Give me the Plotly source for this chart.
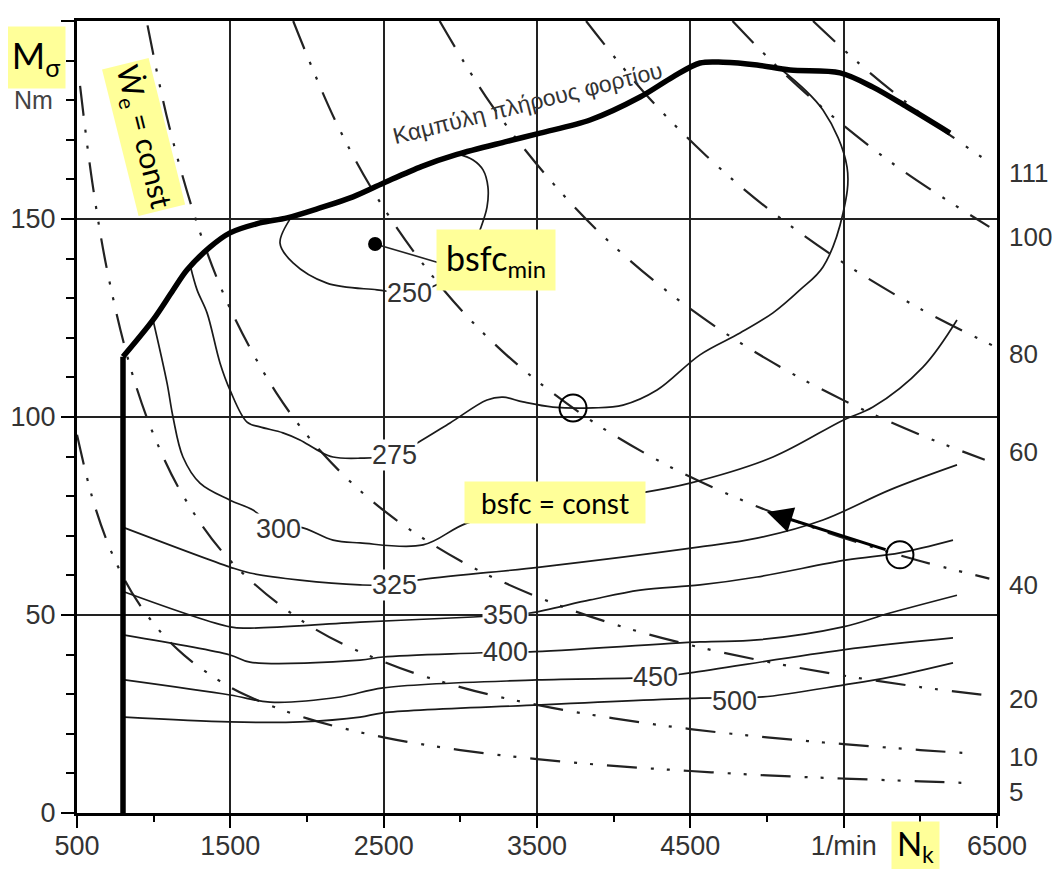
import plotly.graph_objects as go

# ---------------- axis ticks ----------------
speed_ticks = [500, 1500, 2500, 3500, 4500, 5500, 6500]
speed_tick_text = ["500", "1500", "2500", "3500", "4500", "1/min", "6500"]
speed_minor = [1000, 2000, 3000, 4000, 5000, 6000]
torque_ticks = [0, 50, 100, 150, 200]

# ---------------- full-load curve ----------------
full_vert_n = [800, 800]
full_vert_M = [0, 115.2]
full_n = [800, 996, 1126, 1217, 1367, 1498, 1693, 1870, 2085, 2300, 2500, 2750, 2978,
          3304, 3520, 3846, 4172, 4387, 4563, 4713, 4935, 5150, 5476, 5691, 5913, 6193]
full_M = [115.2, 124.5, 132.0, 137.1, 142.9, 146.5, 149.0, 150.3, 152.8, 155.6, 159.1, 163.3, 166.3,
          169.6, 171.7, 175.0, 180.8, 185.9, 189.4, 189.6, 188.9, 187.6, 186.9, 183.3, 178.3, 171.7]

# ---------------- bsfc contours (g/kWh) ----------------
bsfc250_n = [1900, 1824, 1909, 2130, 2457, 2669, 2867, 2965, 3076, 3128, 3174, 3180, 3148, 3083, 2978]
bsfc250_M = [150.6, 143.9, 138.9, 133.8, 132.1, 131.4, 133.8, 136.6, 142.2, 147.2, 153.0, 158.1, 162.4, 164.9, 166.5]

bsfc275_n = [1240, 1283, 1348, 1433, 1498, 1609, 1693, 1843, 1954, 2065, 2170, 2346, 2571, 2717,
             2933, 3174, 3278, 3409, 3604, 3865, 4061, 4283, 4563, 4824, 5039, 5215, 5365, 5496,
             5522, 5365, 5085]
bsfc275_M = [138.0, 132.1, 126.3, 113.6, 106.8, 98.7, 97.5, 96.0, 94.2, 91.7, 89.9, 89.6, 90.4, 93.4,
             98.5, 104.3, 105.0, 103.8, 102.5, 102.3, 103.0, 106.8, 115.7, 121.2, 126.3, 132.1, 137.9, 151.5,
             163.1, 177.5, 188.0]

bsfc300_n = [996, 1087, 1126, 1191, 1302, 1498, 1648, 1814, 1954, 2170, 2346, 2757, 3043, 3585,
             4172, 4498, 5039, 5496, 5691, 6017, 6239]
bsfc300_M = [124.5, 108.6, 100.0, 89.9, 83.3, 79.0, 76.5, 71.7, 72.2, 68.9, 68.2, 67.7, 73.2, 77.8,
             80.8, 83.3, 89.9, 99.2, 102.5, 112.6, 124.5]

bsfc325_n = [810, 1498, 1628, 1954, 2346, 2571, 2717, 3520, 4563, 4935, 5365, 5802, 6239]
bsfc325_M = [72.0, 62.1, 60.6, 58.8, 57.6, 57.6, 58.8, 62.1, 67.2, 69.4, 74.0, 81.6, 87.9]

bsfc350_n = [810, 1498, 1628, 2346, 3083, 3295, 3454, 3846, 4172, 4563, 4935, 5522, 5867, 6213]
bsfc350_M = [55.8, 47.0, 46.7, 48.2, 49.5, 50.0, 50.5, 53.8, 56.3, 57.6, 59.6, 63.9, 65.7, 68.9]

bsfc400_n = [810, 1498, 1628, 2346, 2496, 3109, 3295, 3454, 4563, 4935, 5496, 5802, 6239]
bsfc400_M = [44.9, 39.9, 38.1, 38.6, 39.4, 40.4, 40.7, 40.7, 43.2, 43.7, 47.0, 50.5, 55.0]

bsfc450_n = [810, 1498, 1759, 2215, 2496, 3500, 4273, 4498, 5496, 6213]
bsfc450_M = [33.6, 29.8, 28.0, 29.3, 31.6, 33.6, 34.3, 35.4, 41.2, 44.2]

bsfc500_n = [810, 1498, 1954, 2346, 2496, 3520, 4563, 4791, 4974, 5496, 5802, 6213]
bsfc500_M = [24.2, 23.0, 23.0, 24.2, 25.3, 27.3, 29.0, 29.1, 29.3, 32.3, 34.3, 37.9]

contour_values = ["250", "275", "300", "325", "350", "400", "450", "500"]
contour_label_n = [2669, 2571, 1814, 2571, 3295, 3295, 4273, 4791]
contour_label_M = [131.4, 90.4, 71.7, 57.6, 50.0, 40.7, 34.3, 28.4]

# ---------------- constant power curves (kW) ----------------
p5_n = [500, 600, 700, 800, 900, 1050, 1200, 1400, 1600, 2000, 2500, 3000, 3500, 4000, 4500, 5000, 5500, 6000, 6350]
p5_M = [95.5, 79.6, 68.2, 59.7, 53.1, 45.5, 39.8, 34.1, 29.8, 23.9, 19.1, 15.9, 13.6, 11.9, 10.6, 9.5, 8.7, 8.0, 7.5]

p10_n = [520, 600, 700, 850, 1000, 1200, 1500, 2000, 2500, 3000, 3500, 4000, 4500, 5000, 5500, 6000, 6350]
p10_M = [183.6, 159.2, 136.4, 112.3, 95.5, 79.6, 63.7, 47.7, 38.2, 31.8, 27.3, 23.9, 21.2, 19.1, 17.4, 15.9, 15.0]

p20_n = [960, 1100, 1300, 1500, 1800, 2100, 2500, 3000, 3500, 4000, 4500, 5000, 5500, 6000, 6480]
p20_M = [198.9, 173.6, 146.9, 127.3, 106.1, 90.9, 76.4, 63.7, 54.6, 47.7, 42.4, 38.2, 34.7, 31.8, 29.5]

p40_n = [1910, 2200, 2500, 2900, 3300, 3800, 4300, 4800, 5300, 5900, 6450]
p40_M = [200.0, 173.6, 152.8, 131.7, 115.7, 100.5, 88.8, 79.6, 72.1, 64.7, 59.2]

p60_n = [2865, 3200, 3600, 4000, 4500, 5000, 5500, 6000, 6420]
p60_M = [200.0, 179.0, 159.2, 143.2, 127.3, 114.6, 104.2, 95.5, 89.2]

p80_n = [3820, 4200, 4600, 5000, 5500, 6000, 6480]
p80_M = [200.0, 181.9, 166.1, 152.8, 138.9, 127.3, 117.9]

p100_n = [4775, 5100, 5500, 5900, 6450]
p100_M = [200.0, 187.2, 173.6, 161.8, 148.0]

p111_n = [5300, 5600, 5900, 6200, 6450]
p111_M = [200.0, 189.3, 179.7, 171.0, 164.3]

power_labels = ["111", "100", "80", "60", "40", "20", "10", "5"]
power_label_M = [161.6, 145.5, 115.9, 91.2, 57.6, 28.8, 14.1, 5.3]

# ---------------- markers ----------------
bsfc_min_n = [2444]
bsfc_min_M = [143.7]
leader_n = [2444, 2848]
leader_M = [143.7, 139.1]
circle_n = [3735, 5867]
circle_M = [102.3, 65.2]
arrow_tail = (5783, 66.4)
arrow_tip = (5000, 76.0)

# ====================================================================
fig = go.Figure()

DASHDOT = "30px,14px,3px,13px,3px,14px"
for pn, pM in [(p5_n, p5_M), (p10_n, p10_M), (p20_n, p20_M), (p40_n, p40_M),
               (p60_n, p60_M), (p80_n, p80_M), (p100_n, p100_M), (p111_n, p111_M)]:
    fig.add_trace(go.Scatter(x=pn, y=pM, mode="lines",
                             line=dict(color="#222", width=2.2, dash=DASHDOT, shape="spline"),
                             hoverinfo="skip", showlegend=False))

contours = [(bsfc250_n, bsfc250_M), (bsfc275_n, bsfc275_M), (bsfc300_n, bsfc300_M),
            (bsfc325_n, bsfc325_M), (bsfc350_n, bsfc350_M), (bsfc400_n, bsfc400_M),
            (bsfc450_n, bsfc450_M), (bsfc500_n, bsfc500_M)]
for cn, cM in contours:
    fig.add_trace(go.Scatter(x=cn, y=cM, mode="lines",
                             line=dict(color="#1a1a1a", width=1.7, shape="spline", smoothing=1.0),
                             hoverinfo="skip", showlegend=False))

# full-load curve
fig.add_trace(go.Scatter(x=full_vert_n, y=full_vert_M, mode="lines",
                         line=dict(color="black", width=5.5), showlegend=False))
fig.add_trace(go.Scatter(x=full_n, y=full_M, mode="lines",
                         line=dict(color="black", width=5.5, shape="spline", smoothing=0.9),
                         showlegend=False))

# bsfc_min point and leader
fig.add_trace(go.Scatter(x=leader_n, y=leader_M, mode="lines",
                         line=dict(color="#222", width=1.6), showlegend=False))
fig.add_trace(go.Scatter(x=bsfc_min_n, y=bsfc_min_M, mode="markers",
                         marker=dict(color="black", size=14), showlegend=False))
fig.add_trace(go.Scatter(x=circle_n, y=circle_M, mode="markers",
                         marker=dict(symbol="circle-open", color="black", size=27,
                                     line=dict(width=2, color="black")),
                         showlegend=False))

annotations = []
NUMFONT = dict(family="Liberation Sans, Arial, sans-serif", size=27, color="#333")
RIGHTFONT = dict(family="Liberation Sans, Arial, sans-serif", size=26, color="#333")

for txt, cn, cM in zip(contour_values, contour_label_n, contour_label_M):
    annotations.append(dict(x=cn, y=cM, xref="x", yref="y", text=txt, showarrow=False,
                            xanchor="center", yanchor="middle",
                            font=NUMFONT, bgcolor="white", borderpad=0))

for txt, pM in zip(power_labels, power_label_M):
    annotations.append(dict(x=1.0109, y=pM, xref="paper", yref="y", text=txt, showarrow=False,
                            xanchor="left", yanchor="middle", font=RIGHTFONT))

# arrow
annotations.append(dict(x=arrow_tip[0], y=arrow_tip[1], ax=arrow_tail[0], ay=arrow_tail[1],
                        xref="x", yref="y", axref="x", ayref="y", text="", showarrow=True,
                        arrowhead=2, arrowsize=1.7, arrowwidth=3, arrowcolor="black"))

# full-load curve caption
annotations.append(dict(x=3441, y=179.4, xref="x", yref="y", text="Καμπύλη πλήρους φορτίου",
                        showarrow=False, textangle=-14, xanchor="center", yanchor="middle",
                        font=dict(family="Liberation Sans, Arial, sans-serif", size=23, color="#333")))

# Nm unit
annotations.append(dict(x=-0.0478, y=0.9003, xref="paper", yref="paper", text="Nm",
                        showarrow=False, xanchor="center", yanchor="middle",
                        font=dict(family="Liberation Sans, Arial, sans-serif", size=25, color="#444")))

YELLOW = "#FFFF99"
LABFONT = "Lato, Noto Sans, DejaVu Sans, sans-serif"
def box(x, y, text, w, h, size, angle=0):
    return dict(x=x, y=y, xref="paper", yref="paper", text=text, showarrow=False,
                xanchor="center", yanchor="middle", bgcolor=YELLOW, width=w, height=h,
                borderpad=0, textangle=angle, font=dict(family=LABFONT, size=size, color="black"))

annotations.append(box(-0.0446, 0.9533, "M<sub>σ</sub>", 58, 61, 36))
annotations.append(box(0.0723, 0.8542, "Ẇ<sub>e</sub> = const", 150, 47, 30, 76))
annotations.append(box(0.4554, 0.6982, "bsfc<sub>min</sub>", 118, 60, 34))
annotations.append(box(0.5196, 0.392, "bsfc = const", 180, 41, 28))
annotations.append(box(0.9114, -0.0412, "N<sub>k</sub>", 47, 47, 33))

fig.update_layout(
    width=1044, height=861,
    margin=dict(l=69, r=55, t=13, b=56),
    paper_bgcolor="white", plot_bgcolor="white",
    showlegend=False,
    annotations=annotations,
)
fig.update_xaxes(range=[500, 6500], tickvals=speed_ticks, ticktext=speed_tick_text,
                 ticks="outside", ticklen=12, tickwidth=1.5, tickcolor="black", automargin=False,
                 ticklabelstandoff=-5,
                 tickfont=NUMFONT, showgrid=True, gridcolor="#222", gridwidth=1.5,
                 showline=True, linewidth=3, linecolor="black", mirror=True, zeroline=False,
                 minor=dict(tickvals=speed_minor, ticks="outside", ticklen=6, tickwidth=1.5,
                            tickcolor="black", showgrid=False))
fig.update_yaxes(range=[0, 200], tickvals=torque_ticks,
                 ticks="outside", ticklen=13, tickwidth=1.5, tickcolor="black", automargin=False,
                 tickfont=NUMFONT, showgrid=True, gridcolor="#222", gridwidth=1.5,
                 showline=True, linewidth=3, linecolor="black", mirror=True, zeroline=False,
                 minor=dict(dtick=10, tick0=0, ticks="outside", ticklen=8, tickwidth=1.5,
                            tickcolor="black", showgrid=False))

fig.write_html("out.html")
